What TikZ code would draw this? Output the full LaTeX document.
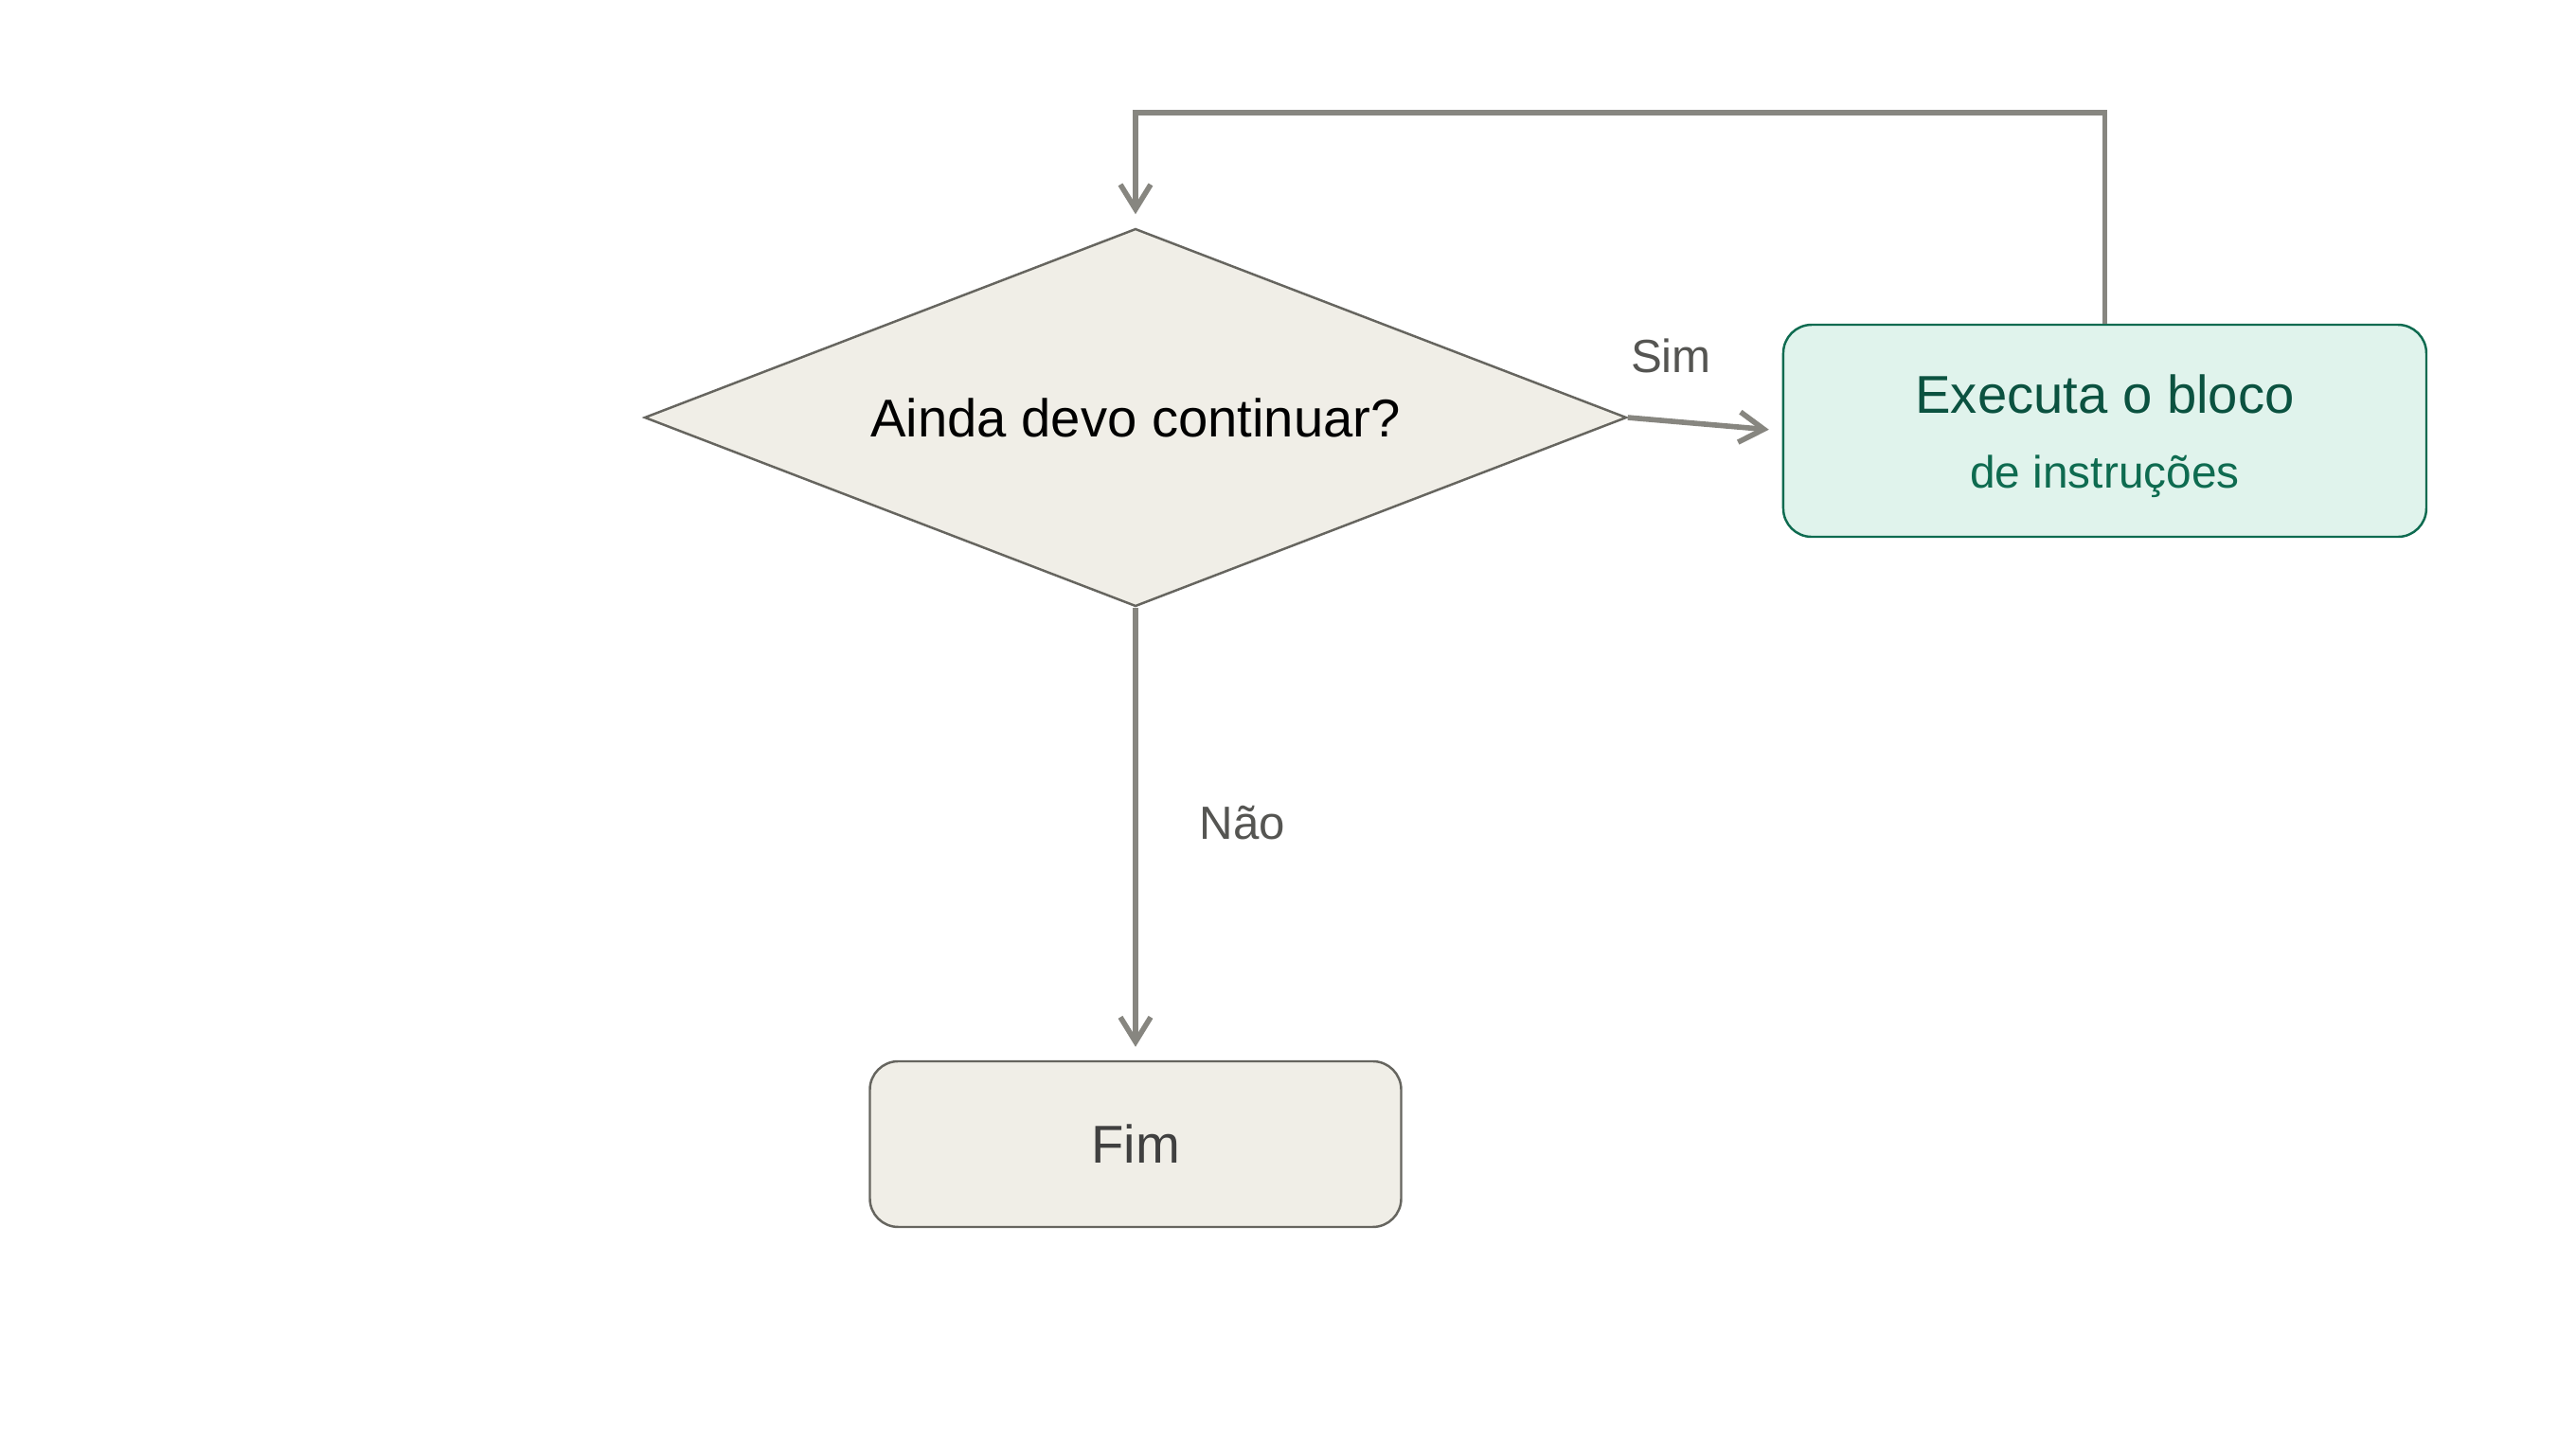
\documentclass[tikz,border=0pt]{standalone}
\usepackage{fontspec}
\setmainfont{Liberation Sans}
\usetikzlibrary{shapes.geometric,positioning,arrows.meta}

\definecolor{linegray}{HTML}{878680}
\definecolor{bordergray}{HTML}{66655F}
\definecolor{sand}{HTML}{F0EEE7}
\definecolor{mint}{HTML}{E0F3EC}
\definecolor{pine}{HTML}{0E6B50}
\definecolor{darkpine}{HTML}{0B5240}
\definecolor{labelgray}{HTML}{555552}

\tikzset{
  decision/.style={diamond, draw=bordergray, fill=sand, line width=0.7pt,
    minimum width=10.37cm, minimum height=3.99cm, inner sep=0pt, aspect=2.6,
    font=\fontsize{16}{19}\selectfont, text=black},
  action/.style={rectangle, rounded corners=0.3cm, draw=pine, fill=mint, line width=0.7pt,
    minimum width=6.79cm, minimum height=2.24cm, inner sep=0pt, align=center},
  finish/.style={rectangle, rounded corners=0.3cm, draw=bordergray, fill=sand, line width=0.7pt,
    minimum width=5.61cm, minimum height=1.75cm, inner sep=0pt,
    font=\fontsize{16}{19}\selectfont, text=black!75},
  flow/.style={draw=linegray, line width=1.6pt,
    -{Straight Barb[length=2.6mm, width=3.2mm, line width=1.6pt]}, shorten >=1.4mm},
  answer/.style={font=\fontsize{14}{17}\selectfont, text=labelgray, inner sep=0pt}
}

\begin{document}
\begin{tikzpicture}

\useasboundingbox (-11.99,4.41) rectangle (15.21,-10.79);

\node[decision] (dec) {Ainda devo continuar?};

\node[action, right=1.63cm of dec, yshift=-1.4mm] (exec)
  {{\fontsize{16}{19}\selectfont\color{darkpine}\rule{0pt}{5.2mm}Executa o bloco}\\[3.7mm]
   {\fontsize{13.6}{16}\selectfont\color{pine}de instruções}};

\node[finish, below=4.78cm of dec] (fim) {Fim};

\coordinate[above=1.21cm of dec] (ret);

\draw[flow]

  % sim: vai para o bloco
  (dec.east) -- node[answer, pos=0.28, anchor=base, yshift=5.1mm] {Sim} (exec.west);

\draw[flow]

  % volta para a pergunta
  (exec.north) |- (ret) -- (dec.north);

\draw[flow]

  % nao: termina
  (dec.south) -- node[answer, right=6.5mm, yshift=1.2mm] {Não} (fim.north);

\end{tikzpicture}
\end{document}
